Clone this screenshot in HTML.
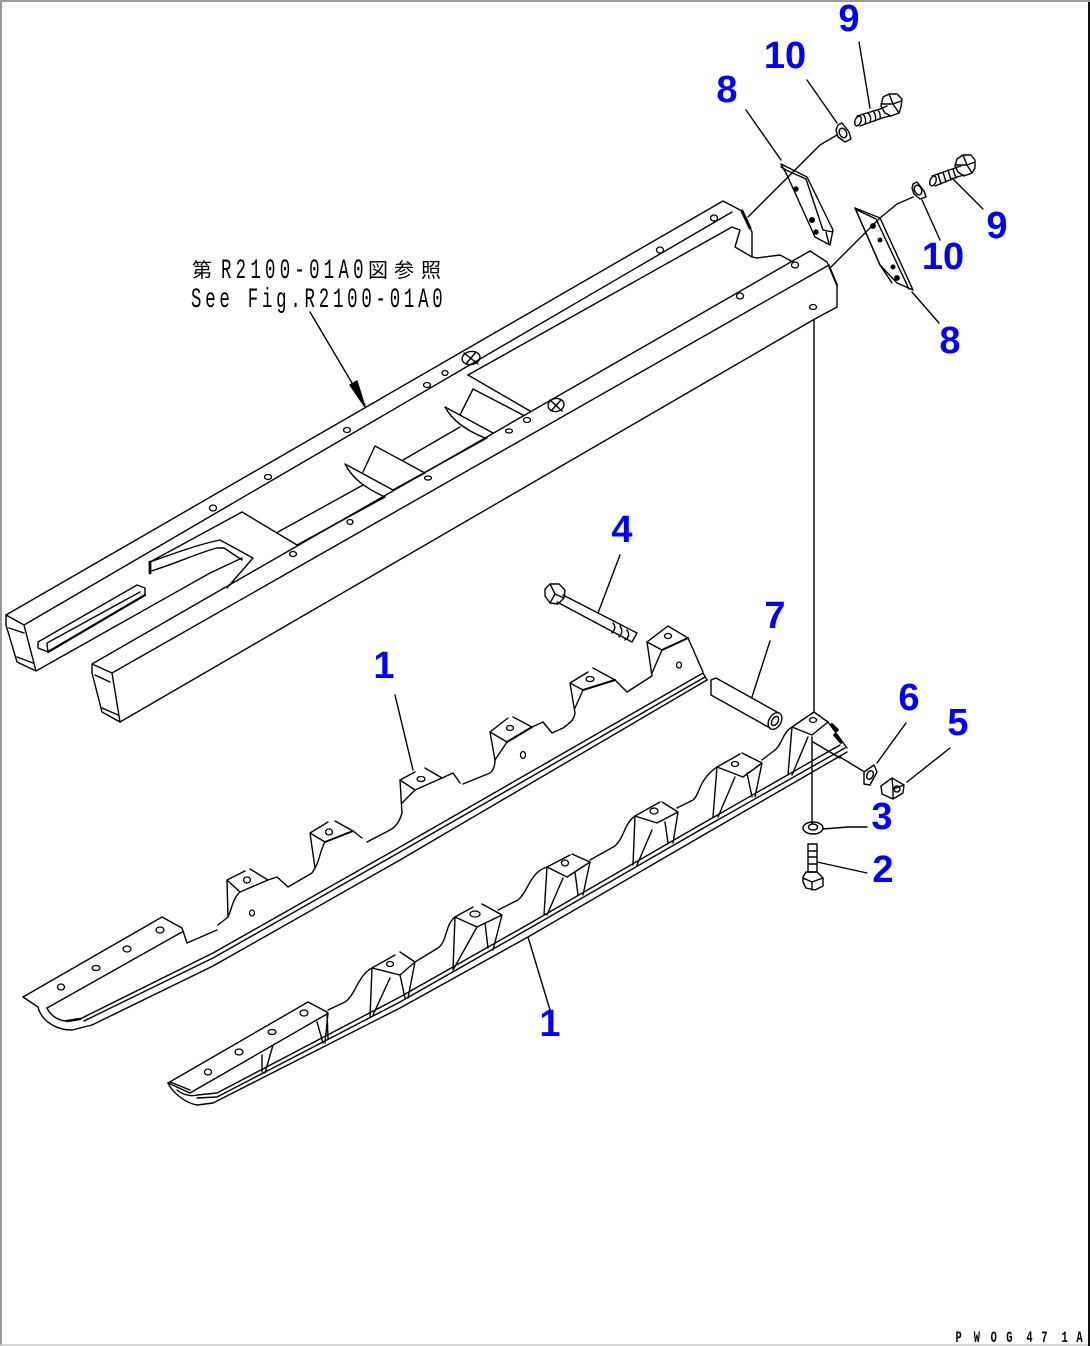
<!DOCTYPE html>
<html><head><meta charset="utf-8"><style>
html,body{margin:0;padding:0;background:#fff}
svg{display:block}
.l{fill:none;stroke:#000;stroke-width:1.4;stroke-linejoin:round;stroke-linecap:round}
.h{fill:none;stroke:#000;stroke-width:1.3}
.n{font-family:"Liberation Sans",sans-serif;font-weight:bold;font-size:38px;fill:#0000ff;text-anchor:middle}
.t{font-family:"Liberation Mono",monospace;font-size:28px;fill:#000}
.c{font-family:"Liberation Sans","Noto Sans CJK JP",sans-serif;font-size:20px;fill:#000}
</style></head><body>
<svg width="1090" height="1346" viewBox="0 0 1090 1346" xmlns="http://www.w3.org/2000/svg">
<rect width="1090" height="1346" fill="#fff"/>
<path d="M0 1H1090M1 0V1346" stroke="#999" stroke-width="2" fill="none"/>
<path d="M0 1345H1090" stroke="#ccc" stroke-width="1.5" fill="none"/>
<path d="M1089 2V1346" stroke="#111" stroke-width="2" fill="none"/>

<!-- rear beam -->
<g class="l">
<path d="M6 615L723 201L742 211"/>
<path d="M6 615L6 625L17 662L36 671L24 625L6 615"/>
<path d="M9 628L24 633M17 657L33 663"/>
<path d="M24 625L732 212"/>
<path d="M36 671L210 573L242 558"/>
<path d="M38 642L137 585L145 588L145 595L48 652L38 648Z"/>
<path d="M47 643L140 592M47 644L48 652"/>
<path d="M48 652L145 595" stroke-width="2.2"/>
<path d="M242 512L150 562L150 573M151 571C175 564 200 552 217 548L224 548L242 560M150 562C175 553 200 544 220 540L253 558L227 588"/>
<path d="M150 562V573" stroke-width="2.8"/>
<path d="M242 512L297 545M278 532L363 485M297 545L385 497"/>
<path d="M375 446L425 473L393 490L345 464M363 472L375 446M345 464C352 478 365 488 385 497"/>
<path d="M403 460L460 427M393 490L487 438"/>
<path d="M468 375L530 411M473 389L523 415M473 389L460 415M445 407L493 433M445 407C452 420 465 430 485 438"/>
<path d="M468 375L732 227L740 230L735 247L752 257L757 258L780 255L793 262"/>
<path d="M742 211L752 232V257"/>
<path d="M742 211L750 228" stroke-width="3"/>
</g>
<!-- front beam -->
<g class="l">
<path d="M92 664L810 251L827 262L837 285V307L813 320L120 722L102 712L92 673V664L112 673L120 722"/>
<path d="M95 675L110 682M102 708L118 715"/>
<path d="M112 673L829 265"/>
<path d="M829 266L837 285" stroke-width="2"/>
</g>
<!-- holes -->
<g class="h">
<ellipse cx="213" cy="508" rx="3.5" ry="3"/><ellipse cx="268" cy="477" rx="3.5" ry="2.5"/><ellipse cx="347" cy="430" rx="3.5" ry="2.5"/><ellipse cx="427" cy="385" rx="3.5" ry="2.5"/><ellipse cx="445" cy="373" rx="3" ry="2.5"/><ellipse cx="660" cy="250" rx="3.5" ry="3"/><ellipse cx="714" cy="218" rx="3.5" ry="3"/><ellipse cx="795" cy="265" rx="3.5" ry="3"/><ellipse cx="740" cy="296" rx="3.5" ry="3"/><ellipse cx="813" cy="307" rx="3.5" ry="2.5"/><ellipse cx="293" cy="554" rx="3.5" ry="2.5"/><ellipse cx="350" cy="522" rx="3" ry="2.5"/><ellipse cx="428" cy="478" rx="3.5" ry="2"/><ellipse cx="509" cy="431" rx="3.5" ry="2"/><ellipse cx="527" cy="420" rx="3.5" ry="2.5"/>
<ellipse cx="160" cy="930" rx="4" ry="3"/><ellipse cx="127" cy="949" rx="4" ry="3"/><ellipse cx="96" cy="968" rx="4" ry="2.5"/><ellipse cx="61" cy="987" rx="3.5" ry="3"/><ellipse cx="247" cy="880" rx="3.5" ry="3"/><ellipse cx="252" cy="913" rx="2.5" ry="3"/><ellipse cx="329" cy="832" rx="3.5" ry="3"/><ellipse cx="421" cy="779" rx="4" ry="2.5"/><ellipse cx="523" cy="755" rx="2.5" ry="3.5"/><ellipse cx="510" cy="728" rx="3.5" ry="2.5"/><ellipse cx="590" cy="679" rx="4" ry="2.5"/><ellipse cx="668" cy="636" rx="3.5" ry="2.5"/><ellipse cx="679" cy="665" rx="2.5" ry="3"/>
<ellipse cx="304" cy="1013" rx="4" ry="3"/><ellipse cx="272" cy="1032" rx="4" ry="2.5"/><ellipse cx="239" cy="1052" rx="4" ry="3"/><ellipse cx="208" cy="1072" rx="3.5" ry="3"/><ellipse cx="390" cy="964" rx="3.5" ry="2.5"/><ellipse cx="475" cy="914" rx="5" ry="3"/><ellipse cx="565" cy="863" rx="3.5" ry="3"/><ellipse cx="654" cy="811" rx="4" ry="3"/><ellipse cx="735" cy="764" rx="3.5" ry="2.5"/><ellipse cx="813" cy="720" rx="3.5" ry="2.5"/>
</g>
<!-- beam bosses -->
<g class="l">
<ellipse cx="471" cy="358" rx="9" ry="6.5" transform="rotate(-10 471 358)"/><path d="M464 353L478 364M476 352L466 364"/>
<ellipse cx="556" cy="405" rx="8" ry="6.5" transform="rotate(-10 556 405)"/><path d="M550 400L562 411M561 400L551 411"/>
</g>

<!-- leader lines upper -->
<g class="l">
<path d="M310 312L365 405"/>
<path d="M350 385L357 381L365 407Z" fill="#000"/>
<path d="M746 110L781 160M837 135L820 145L788 177L748 217M807 80L837 123M859 42L870 108"/>
<path d="M913 197L897 204L880 218L830 268M912 292L939 323M922 200L940 240M952 178L983 209"/>
<path d="M814 320V712"/>
<path d="M812 737V823"/>
</g>
<!-- bracket 8 upper -->
<g class="l">
<path d="M781 164L807 177L833 230L830 245L815 237L787 175Z"/>
<path d="M781 167L786 170L806 179L823 230L833 232"/>
<path d="M826 232L829 244"/>
<g fill="#000"><circle cx="796" cy="189" r="2"/><circle cx="812" cy="220" r="2.3"/><circle cx="816" cy="232" r="2"/></g>
<path d="M855 208L880 218L913 290L897 283L880 265Z"/>
<path d="M857 210L876 219L909 289"/>
<path d="M855 208L880 265L892 283"/>
<g fill="#000"><circle cx="873" cy="226" r="2.2"/><circle cx="880" cy="240" r="1.8"/><circle cx="893" cy="267" r="1.8"/><circle cx="897" cy="278" r="2.2"/></g>
</g>
<!-- washers 10 -->
<g class="l">
<path d="M838 125L842 123L849 132L851 139L845 142L838 137L836 130Z"/><ellipse cx="843" cy="133" rx="3.5" ry="5" transform="rotate(-25 843 133)"/>
<path d="M913 184L917 182L924 191L926 197L920 199L914 194L912 188Z"/><ellipse cx="918" cy="190" rx="3.5" ry="5" transform="rotate(-25 918 190)"/>
</g>
<!-- bolts 9 -->
<g class="l">
<ellipse cx="858" cy="121" rx="3" ry="5" transform="rotate(20 858 121)"/>
<path d="M857 116L880 109M860 126L882 118M863 114Q867 119 865 124M868 113Q872 117 870 122M873 111Q877 116 875 121M878 110Q881 114 880 119"/>
<path d="M880 109L887 106M882 118L890 116"/>
<path d="M883 97L889 94L897 94L902 99L901 107L899 113L891 116L885 113L881 106Z M889 94L893 104L899 113M893 104L881 104M893 104L901 101"/>
<ellipse cx="933" cy="181" rx="3" ry="5" transform="rotate(20 933 181)"/>
<path d="M932 176L955 168M935 186L957 177M938 174L941 184M943 172L946 182M948 170L951 180M953 169L956 178"/>
<path d="M955 168L961 166M957 177L964 175"/>
<path d="M957 159L963 155L971 155L975 160L975 168L972 173L964 176L958 172L955 166Z M963 155L967 165L972 173M967 165L955 165M967 165L975 162"/>
</g>

<!-- rear rail -->
<g class="l">
<path d="M23 997L162 917L182 928L187 943L217 930"/>
<path d="M218 925L228 917M23 997L38 1007M182 932L47 1008"/>
<path d="M228 917L227 880L245 871M250 869L268 880L240 892L227 880M240 892C233 898 232 908 228 917M268 880L277 877L288 887L312 873L315 868"/>
<path d="M315 868L310 833L328 822M335 821L353 831L362 838M310 833L325 842L353 831M325 842C320 850 320 860 315 868"/>
<path d="M367 842L390 830C396 827 400 820 402 813L400 780L415 772M425 768L442 778L453 773L460 783M463 784L490 773C494 770 495 765 495 760L490 732L508 718M513 717L532 727L543 722L552 733L563 728C570 723 574 720 575 713L570 683L588 672M593 668L615 680L627 692L652 676L647 642L668 626L688 638L703 672"/>
<path d="M400 780L415 790L442 778M415 790L402 803M490 732L507 742L532 727M507 742L495 760M570 683L583 690L615 680M583 690L575 708M647 642L662 650L688 638M662 650L652 673"/>
<path d="M325 842L353 831" stroke-width="2"/>
<path d="M507 742L532 727" stroke-width="2"/>
<path d="M583 690L615 680" stroke-width="2"/>
<path d="M662 650L688 638" stroke-width="2"/>
<path d="M80 1019L213 953L400 847L703 673L707 680"/>
<path d="M84 1021L213 958L400 852L705 677"/>
<path d="M92 1025L213 966L400 860L707 680"/>
<path d="M47 1008C50 1015 58 1021 67 1021L80 1019"/>
<path d="M38 1007C41 1020 55 1030 72 1030L92 1025"/>
<path d="M67 1021L80 1019" stroke-width="2.5"/>
</g>

<!-- front rail -->
<g class="l">
<path d="M168 1083L308 1002L327 1012L328 1038"/>
<path d="M190 1093L327 1014M168 1083L190 1093M170 1082L190 1090"/>
<path d="M168 1083C172 1092 185 1103 197 1105L213 1103L400 1008L528 937L700 837L847 752"/>
<path d="M177 1090C182 1094 190 1097 197 1095L217 1093L400 997L527 925L700 825L840 745"/>
<path d="M197 1098L217 1097L400 1002L530 928L700 830L845 748"/>
<path d="M317 1022L323 1043M328 1013L325 1043M262 1055V1072M273 1045L265 1073"/>
<path d="M328 1010L345 1002C355 996 358 975 372 968"/>
<path d="M372 968L395 955M400 952L415 962L400 975L372 968L370 1017M415 962L408 998M400 975L405 998M390 978L373 1015"/>
<path d="M415 962L438 948C447 942 445 925 455 917"/>
<path d="M455 917L473 907M482 904L502 915L477 927L455 917L453 970M502 915L493 950M485 923L488 948M477 927L453 970"/>
<path d="M498 910L518 900C528 892 530 872 547 867"/>
<path d="M547 867L570 855M572 854L590 862L567 877L547 867L544 915M590 862L583 895M575 872L578 895M563 878L547 915"/>
<path d="M590 860L615 846C624 838 624 824 635 816"/>
<path d="M635 816L660 802M662 802L678 812L657 823L635 816L633 865M678 812L673 843M665 822L668 843M652 830L637 865"/>
<path d="M677 808L693 800C700 795 698 780 717 767"/>
<path d="M717 767L740 754M742 753L762 763L743 777L717 767L713 817M762 763L755 797M747 773L752 797M735 777L718 817"/>
<path d="M762 760L775 750C782 745 782 733 792 727"/>
<path d="M792 727L814 712L828 722L847 748M792 727L812 735L828 722M792 727L788 775M808 737L792 775M813 742L840 758"/>
<path d="M832 725L837 730M835 735L841 742" stroke-width="3.5"/>
<path d="M840 757L863 771M877 763L906 723"/>
</g>
<!-- small parts -->
<g class="l">
<path d="M864 772L874 765L877 772L870 785L864 784Z"/><ellipse cx="870" cy="775" rx="3" ry="4.5" transform="rotate(25 870 775)"/>
<path d="M881 786L892 778L904 785L903 793L893 799L882 794Z M892 778L893 789L904 785M893 789L893 799"/><circle cx="897" cy="789" r="3"/>
<path d="M907 782L950 748"/>
<ellipse cx="813" cy="828" rx="10" ry="6"/><ellipse cx="813" cy="827" rx="4.5" ry="3"/>
<path d="M823 829L848 827H867"/>
<path d="M808 844H817V872H808Z M808 851H817M808 857H817M808 864H817"/>
<path d="M806 872L817 872L823 878V886L815 890L806 888L803 882V877Z M803 878L812 882L823 878M812 882V890"/>
<path d="M817 862L867 873"/>
<path d="M711 680L716 678L777 712M711 680V695L770 728"/><ellipse cx="775" cy="721" rx="6" ry="9" transform="rotate(30 775 721)"/><ellipse cx="775" cy="721" rx="3" ry="5" transform="rotate(30 775 721)"/>
<path d="M770 641L752 697"/>
<path d="M563 595L637 633L632 642L557 602"/>
<path d="M613 623Q617 628 612 633M620 626Q624 632 619 637M627 630Q631 636 625 640"/>
<path d="M550 584L559 584L565 590L564 598L558 604L550 603L545 596V589Z M550 584L555 594L564 598M555 594L550 603"/>
<path d="M620 555L598 613"/>
<path d="M395 695L413 770M528 937L550 1010"/>
</g>

<!-- labels -->
<g class="n">
<text x="849" y="31">9</text><text x="785" y="68">10</text><text x="727" y="102">8</text>
<text x="997" y="238">9</text><text x="943" y="269">10</text><text x="950" y="353">8</text>
<text x="622" y="542">4</text><text x="775" y="628">7</text><text x="909" y="710">6</text>
<text x="958" y="735">5</text><text x="882" y="829">3</text><text x="883" y="882">2</text>
<text x="384" y="678">1</text><text x="550" y="1036">1</text>
</g>
<text class="c" x="192" y="277">第</text>
<text class="t" transform="translate(221,278) scale(.62,1)" textLength="230" lengthAdjust="spacing">R2100-01A0</text>
<text class="c" x="368" y="277">図</text>
<text class="c" x="394" y="277">参</text>
<text class="c" x="421" y="277">照</text>
<text class="t" transform="translate(191,307) scale(.62,1)" textLength="406" lengthAdjust="spacing">See Fig.R2100-01A0</text>
<g transform="translate(0,1342) scale(.65,1)" style="font-family:'Liberation Mono',monospace;font-size:16px;fill:#000;font-weight:bold">
<text x="1470">P</text><text x="1498">W</text><text x="1524">O</text><text x="1548">G</text><text x="1579">4</text><text x="1602">7</text><text x="1633">1</text><text x="1656">A</text>
</g>
</svg>
</body></html>
